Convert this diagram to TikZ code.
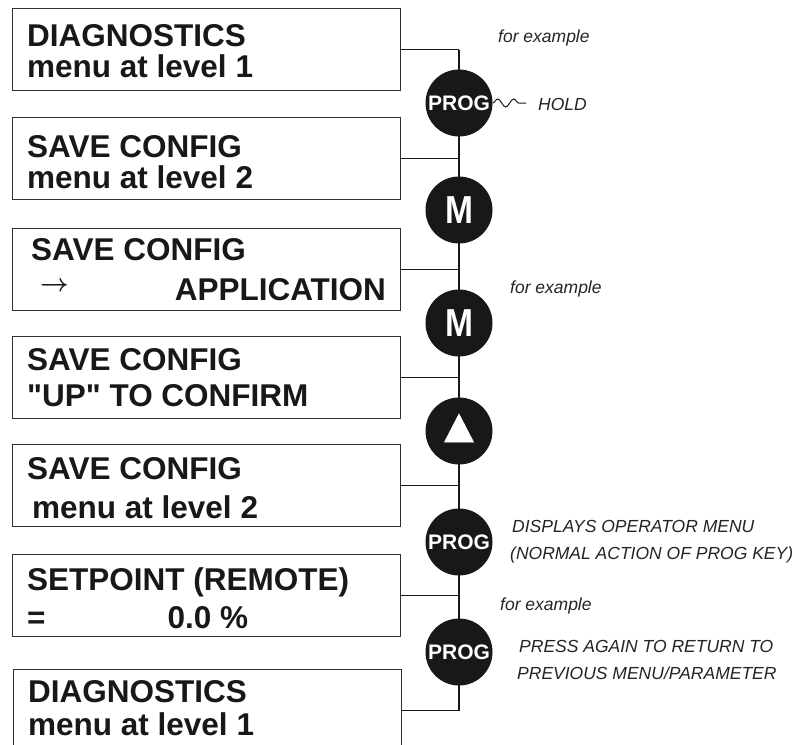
\documentclass[tikz,border=0pt]{standalone}
\usepackage{fontspec}
\setmainfont{Liberation Sans}[Ligatures=TeXOff]
\usepackage{tikz}
\usetikzlibrary{backgrounds,decorations.pathmorphing}
\definecolor{ink}{RGB}{24,24,24}
\definecolor{frame}{RGB}{48,48,48}
\definecolor{muted}{RGB}{36,36,36}

\begin{document}
\begin{tikzpicture}[
    x=1pt,y=-1pt,
    screen/.style={draw=frame,line width=1.3pt,fill=white,anchor=north west,
      minimum width=388pt,minimum height=82pt,inner sep=0pt},
    row/.style={anchor=base west,inner sep=0pt,text=ink,
      font=\fontsize{31.5}{31.5}\selectfont\bfseries},
    keycap/.style={circle,fill=ink,draw=none,minimum size=67pt,inner sep=0pt,
      text=white,font=\fontsize{21}{21}\selectfont\bfseries},
    bigcap/.style={keycap,font=\fontsize{39}{39}\selectfont\bfseries},
    wire/.style={draw=ink,line width=1.6pt,line join=miter},
    squiggle/.style={draw=ink,line width=1pt,decorate,
      decoration={snake,segment length=16pt,amplitude=4pt}},
    remark/.style={anchor=base west,inner sep=0pt,text=muted,
      font=\fontsize{17.5}{17.5}\selectfont\itshape},
  ]

  \useasboundingbox (0,0) rectangle (800,744);

  \foreach \i/\bx/\by/\ya/\yb/\la/\lb in {
      1/12/8/46/77/{DIAGNOSTICS}/{menu at level 1},
      2/12/117/157/188/{SAVE CONFIG}/{menu at level 2},
      3/12/228/260/300/{\hspace*{4pt}SAVE CONFIG}/{\hspace*{13pt}\smash{\raisebox{9pt}{\fontsize{25}{25}\selectfont\boldmath$\rightarrow$}}\hspace*{106pt}APPLICATION},
      4/12/336/370/406/{SAVE CONFIG}/{"UP" TO CONFIRM},
      5/12/444/479/518/{SAVE CONFIG}/{\hspace*{5pt}menu at level 2},
      6/12/554/590/628/{SETPOINT (REMOTE)}/{=\hspace*{122pt}0.0 \%},
      7/13/669/702/735/{DIAGNOSTICS}/{menu at level 1}} {
    \node[screen] (box\i) at (\bx,\by) {};
    \node[row] (top\i) at ({\bx+15},\ya) {\la};
    \node[row] (bot\i) at ({\bx+15},\yb) {\lb};
  }

  \node[keycap] (key1) at (459,103) {PROG};
  \node[bigcap] (key2) at (459,210) {\scalebox{0.86}[1]{M}};
  \node[bigcap] (key3) at (459,323) {\scalebox{0.86}[1]{M}};
  \node[keycap] (key4) at (459,431) {};
  \node[keycap] (key5) at (459,542) {PROG};
  \node[keycap] (key6) at (459,652) {PROG};

  \filldraw[fill=white,draw=white,line width=0.6pt]
    ([yshift=17pt]key4.center) -- ([shift={(-14.5pt,-11pt)}]key4.center)
    -- ([shift={(14.5pt,-11pt)}]key4.center) -- cycle;

  \begin{scope}[on background layer]
    \draw[wire] (box1.east -| key1.center) -- (box7.east -| key1.center);
    \foreach \i in {1,...,7}
      \draw[wire] (box\i.east) -- (box\i.east -| key1.center);
  \end{scope}

  \coordinate (holdtail) at (526,103);
  \draw[squiggle] (key1.east) -- (holdtail);

  \node[remark] (eg1) at (498,42) {for example};
  \node[remark] (hold) at (538,110) {HOLD};
  \node[remark] (eg2) at (510,293) {for example};
  \node[remark] (disp1) at (512,532) {DISPLAYS OPERATOR MENU};
  \node[remark] (disp2) at (510,559) {(NORMAL ACTION OF PROG KEY)};
  \node[remark] (eg3) at (500,610) {for example};
  \node[remark] (press1) at (519,652) {PRESS AGAIN TO RETURN TO};
  \node[remark] (press2) at (517,679) {PREVIOUS MENU/PARAMETER};

\end{tikzpicture}
\end{document}
